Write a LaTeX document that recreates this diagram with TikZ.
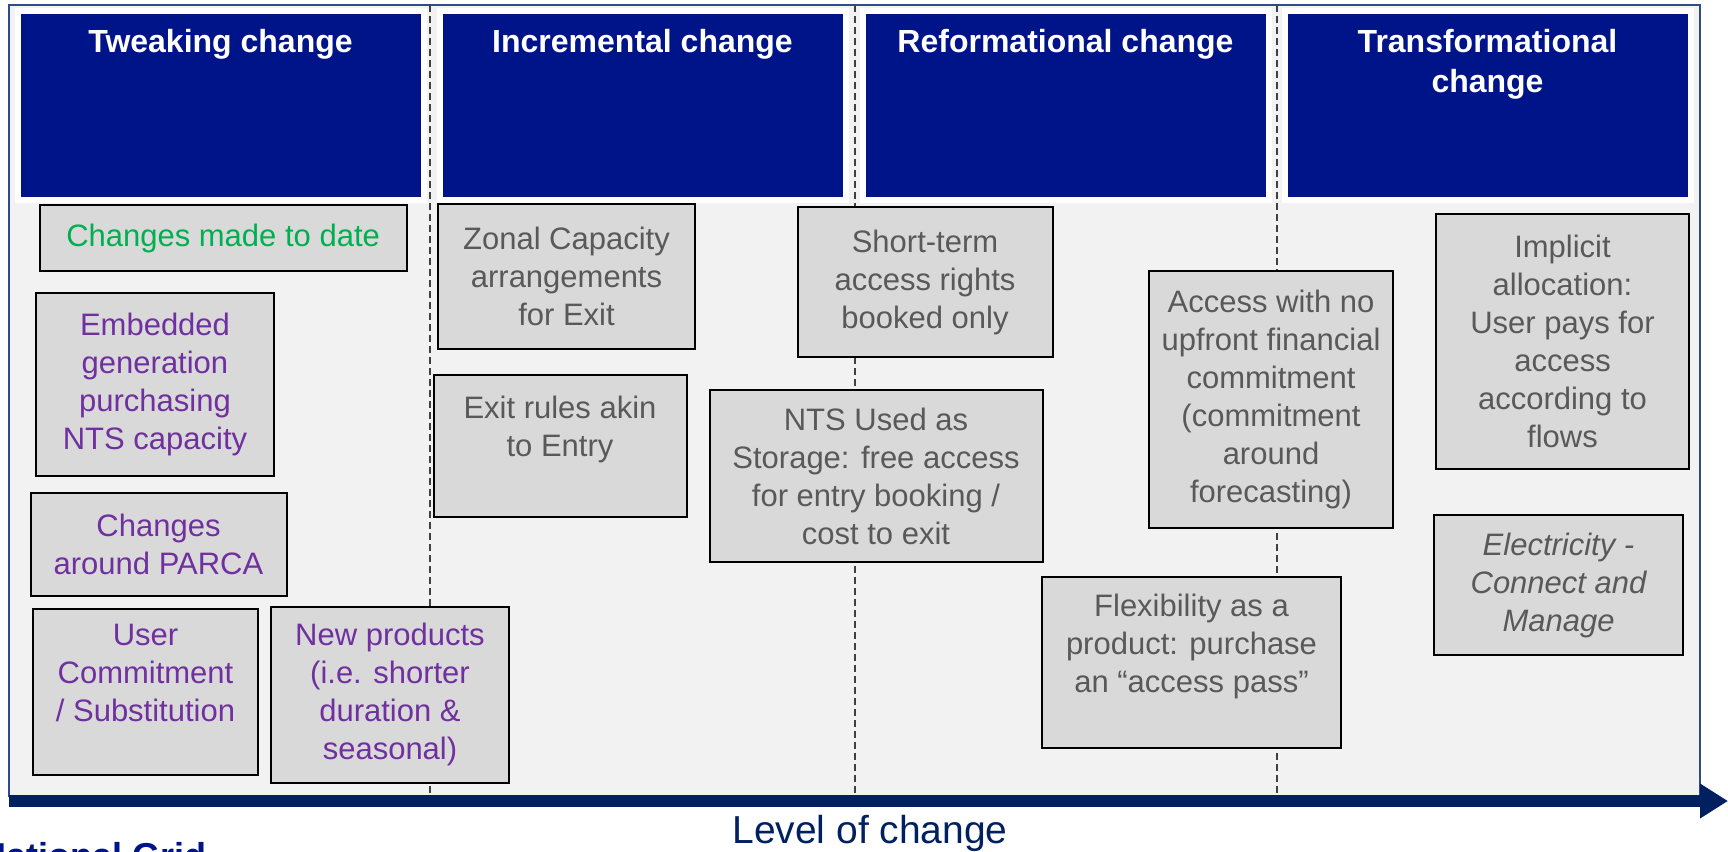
\documentclass[tikz,border=0pt]{standalone}
\usepackage{fontspec}
\setmainfont{Liberation Sans}
\usepackage{tikz}
\usetikzlibrary{positioning,arrows.meta}

\definecolor{headblue}{RGB}{0,20,137}
\definecolor{navy}{RGB}{0,32,96}
\definecolor{framecol}{RGB}{47,75,140}
\definecolor{panelgray}{RGB}{242,242,242}
\definecolor{boxgray}{RGB}{217,217,217}
\definecolor{txtgray}{RGB}{89,89,89}
\definecolor{txtpurple}{RGB}{112,48,160}
\definecolor{txtgreen}{RGB}{0,176,80}

\tikzset{
    head/.style={fill=headblue, draw=white, line width=3pt, outer sep=0pt, inner sep=0pt,
        minimum width=203pt, minimum height=94.5pt},
    title/.style={text=white, align=center, inner sep=0pt,
        font=\fontsize{16}{20}\selectfont\bfseries},
    card/.style 2 args={fill=boxgray, draw=black, line width=1pt, inner sep=0pt,
        anchor=north west, align=center, minimum width=#1*0.5pt, minimum height=#2*0.5pt,
        font=\fontsize{15.5}{19}\selectfont},
    made/.style={text=txtgreen},
    near/.style={text=txtpurple},
    idea/.style={text=txtgray},
    sep/.style={draw=black!75, line width=0.75pt, dash pattern=on 3.5pt off 2pt},
    axis/.style={navy, line width=6pt, -{Triangle[length=14pt, width=16.5pt]}}
}

\begin{document}
\begin{tikzpicture}[x=0.5pt, y=-0.5pt]
    \useasboundingbox (0,0) rectangle (1728,851);
    \clip (0,0) rectangle (1728,851);

    \draw[framecol, fill=panelgray, line width=0.75pt] (9,5) rectangle (1700,796);

    \draw[sep] (430,5) -- (430,796);
    \draw[sep] (855,5) -- (855,796);
    \draw[sep] (1277,5) -- (1277,796);

    % column heads
    \node[head] (h1) at (220.5,105.5) {};
    \node[head] (h2) at (642.5,105.5) {};
    \node[head] (h3) at (1065.5,105.5) {};
    \node[head] (h4) at (1487.5,105.5) {};
    \node[title, below=8.75pt of h1.north] (t1) {Tweaking change};
    \node[title, below=8.75pt of h2.north] (t2) {Incremental change};
    \node[title, below=8.75pt of h3.north] (t3) {Reformational change};
    \node[title, below=8.75pt of h4.north] (t4) {Transformational\\change};

    % tweaking
    \node[card={367}{66}, made] (date) at (38.6,204) {Changes made to date};
    \node[card={238}{183}, near] (embed) at (35,292) {Embedded\\generation\\purchasing\\NTS capacity};
    \node[card={256}{103}, near] (parca) at (29.5,491.5) {Changes\\around PARCA};
    \node[card={225}{166}, near] (commit) at (32,608) {User\\Commitment\\/ Substitution\\\mbox{}};
    \node[card={238}{176}, near] (newprod) at (270,605.5) {New products\\(i.e. shorter\\duration \&\\seasonal)};

    % incremental
    \node[card={257}{145}, idea] (zonal) at (437,202.5) {Zonal Capacity\\arrangements\\for Exit};
    \node[card={253}{142}, idea] (exitrule) at (432.5,373.5) {Exit rules akin\\to Entry\\\mbox{}};
    \node[card={255}{150}, idea] (shortterm) at (796.5,206) {Short-term\\access rights\\booked only};
    \node[card={333}{172}, idea] (storage) at (708.5,389) {NTS Used as\\Storage: free access\\for entry booking /\\cost to exit};

    % reformational
    \node[card={244}{257}, idea] (noupfront) at (1148,270) {Access with no\\upfront financial\\commitment\\(commitment\\around\\forecasting)};
    \node[card={299}{171}, idea] (flexpass) at (1041,575.5) {Flexibility as a\\product: purchase\\an “access pass”\\\mbox{}};

    % transformational
    \node[card={253}{255}, idea] (implicit) at (1435,213) {Implicit\\allocation:\\User pays for\\access\\according to\\flows};
    \node[card={249}{140}, idea, font=\fontsize{15.5}{19}\selectfont\itshape] (elec) at (1433,514) {Electricity -\\Connect and\\Manage};

    \coordinate (axisL) at (9,801);
    \coordinate (axisR) at (1728,801);
    \draw[axis] (axisL) -- (axisR);
    \node[text=navy, anchor=base, font=\fontsize{19.5}{23}\selectfont] (level) at (870,843) {Level of change};
    \node[text=headblue, anchor=base west, inner sep=0pt, font=\fontsize{18}{22}\selectfont\bfseries] (brand) at (-20,868) {National Grid};

\end{tikzpicture}
\end{document}
